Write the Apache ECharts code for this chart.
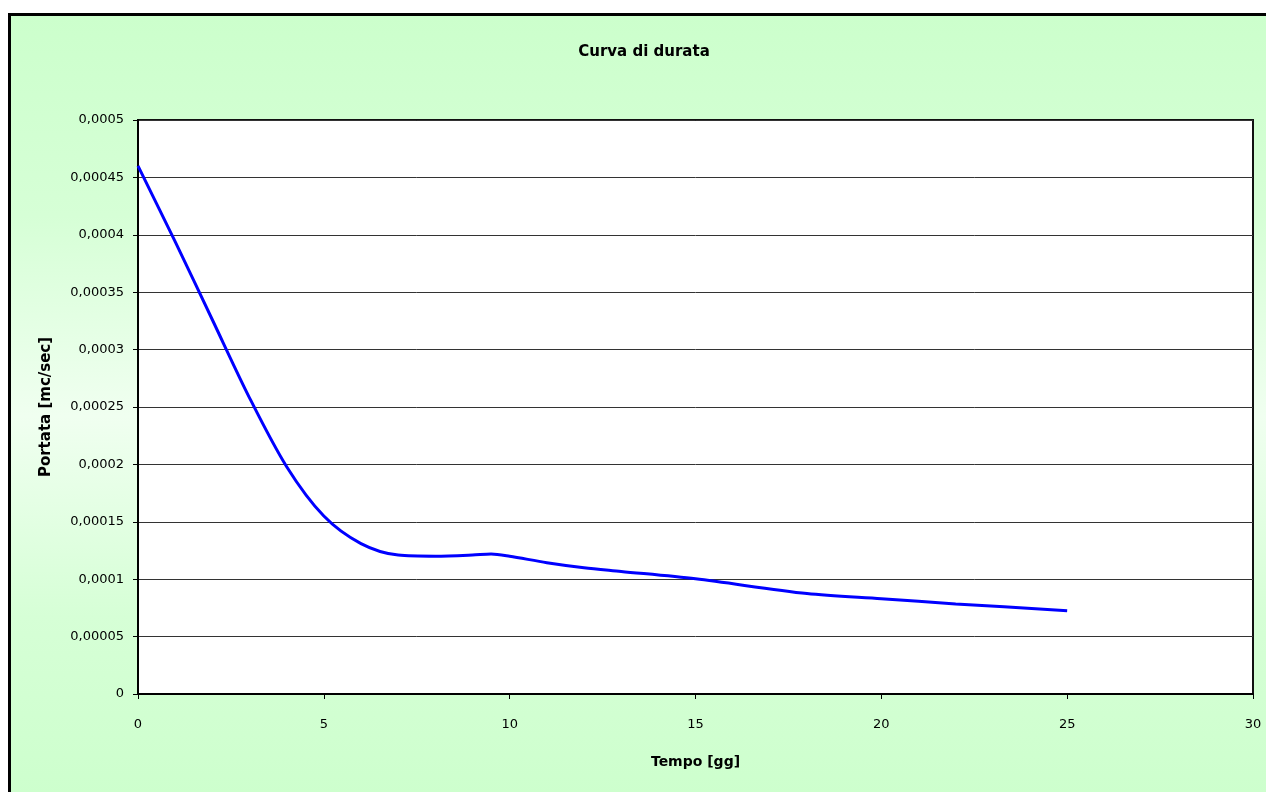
<!DOCTYPE html>
<html>
<head>
<meta charset="utf-8">
<script src="https://cdn.jsdelivr.net/npm/echarts@6/dist/echarts.min.js"></script>
<style>
html, body { margin: 0; padding: 0; width: 1266px; height: 792px; overflow: hidden; background: #ffffff; }
#bg { position: absolute; left: 8px; top: 13px; width: 1400px; height: 800px; border: 3px solid #000;
  background: linear-gradient(to bottom, #CCFFCC 0%, #D6FFD6 25%, #F0FFF0 50%, #D6FFD6 75%, #CCFFCC 100%); }
#chart { position: absolute; left: 0; top: 0; width: 1266px; height: 792px; }
</style>
</head>
<body>
<div id="bg"></div>
<div id="chart"></div>
<script>
// Data
const titleText = 'Curva di durata';
const xName = 'Tempo [gg]';
const yName = 'Portata [mc/sec]';
const days = [0, 1, 2, 3, 4, 5, 6, 7, 8, 9, 9.5, 10, 11, 12, 13, 15, 18, 20, 22, 25];
const flow = [0.00046, 0.000394, 0.000326, 0.000258, 0.000198, 0.000155, 0.000131, 0.000121, 0.00012, 0.000121, 0.000122, 0.00012, 0.0001144, 0.00011, 0.0001068, 0.0001003, 0.0000875, 0.000083, 0.0000785, 0.0000726];

const seriesData = days.map((d, i) => [d, flow[i]]);

function fmtY(v) {
  if (v === 0) return '0';
  let s = v.toFixed(5).replace(/0+$/, '');
  return s.replace('.', ',');
}

const chart = echarts.init(document.getElementById('chart'), null, { renderer: 'canvas' });
chart.setOption({
  backgroundColor: 'transparent',
  animation: false,
  title: {
    text: titleText,
    left: 639,
    textAlign: 'center',
    top: 40,
    textStyle: { fontFamily: '"Comic Sans MS", "DejaVu Sans", sans-serif', fontWeight: 'bold', fontSize: 15, color: '#000' }
  },
  grid: {
    left: 138, top: 120, right: 13, bottom: 98,
    show: true, backgroundColor: '#ffffff', borderColor: '#111', borderWidth: 2
  },
  xAxis: {
    type: 'value', min: 0, max: 30, interval: 5,
    name: xName, nameLocation: 'middle', nameGap: 61,
    nameTextStyle: { fontFamily: '"Comic Sans MS", "DejaVu Sans", sans-serif', fontWeight: 'bold', fontSize: 14, color: '#000' },
    axisLine: { show: true, lineStyle: { color: '#000', width: 2 } },
    axisTick: { show: true, inside: false, length: 5, lineStyle: { color: '#000', width: 1 } },
    axisLabel: { margin: 24, fontFamily: '"DejaVu Sans", sans-serif', fontSize: 13, color: '#000' },
    splitLine: { show: false }
  },
  yAxis: {
    type: 'value', min: 0, max: 0.0005, interval: 0.00005,
    name: yName, nameLocation: 'middle', nameGap: 84, nameRotate: 90,
    nameTextStyle: { fontFamily: '"Comic Sans MS", "DejaVu Sans", sans-serif', fontWeight: 'bold', fontSize: 15, color: '#000' },
    axisLine: { show: true, lineStyle: { color: '#000', width: 2 } },
    axisTick: { show: true, inside: false, length: 5, lineStyle: { color: '#000', width: 1 } },
    axisLabel: { margin: 14, formatter: fmtY, fontFamily: '"DejaVu Sans", sans-serif', fontSize: 13, color: '#000' },
    splitLine: { show: true, lineStyle: { color: '#333', width: 1 } }
  },
  series: [{
    type: 'line',
    data: seriesData,
    smooth: 0.3,
    showSymbol: false,
    symbol: 'none',
    lineStyle: { color: '#0000FF', width: 3 },
    z: 5
  }]
});
</script>
</body>
</html>
